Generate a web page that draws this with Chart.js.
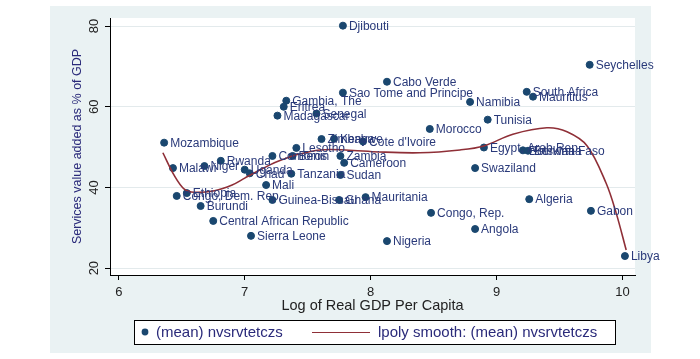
<!DOCTYPE html>
<html>
<head>
<meta charset="utf-8">
<script src="https://cdn.jsdelivr.net/npm/chart.js@4.4.1/dist/chart.umd.min.js"></script>
<style>
  html, body { margin: 0; padding: 0; background: #fff; }
  #wrap { width: 700px; height: 359px; position: relative; }
</style>
</head>
<body>
<div id="wrap"><canvas id="myChart" width="700" height="359"></canvas></div>
<script>
// country labels and values
const countries = [
  "Djibouti", "Cabo Verde", "Sao Tome and Principe", "Seychelles", "South Africa",
  "Mauritius", "Namibia", "Gambia, The", "Eritrea", "Madagascar",
  "Senegal", "Tunisia", "Morocco", "Mozambique", "Zimbabwe",
  "Kenya", "Cote d'Ivoire", "Lesotho", "Egypt, Arab Rep.", "Botswana",
  "Burkina Faso", "Swaziland", "Zambia", "Cameroon", "Sudan",
  "Comoros", "Benin", "Rwanda", "Niger", "Malawi",
  "Uganda", "Chad", "Tanzania", "Mali", "Ethiopia",
  "Congo, Dem. Rep.", "Burundi", "Guinea-Bissau", "Central African Republic", "Sierra Leone",
  "Ghana", "Mauritania", "Congo, Rep.", "Angola", "Nigeria",
  "Algeria", "Gabon", "Libya"
];
const logGdp = [
  7.78, 8.13, 7.78, 9.74, 9.24,
  9.29, 8.79, 7.33, 7.31, 7.26,
  7.57, 8.93, 8.47, 6.36, 7.61,
  7.71, 7.94, 7.41, 8.90, 9.21,
  9.25, 8.83, 7.76, 7.79, 7.76,
  7.22, 7.38, 6.81, 6.68, 6.43,
  7.00, 7.04, 7.37, 7.17, 6.54,
  6.46, 6.65, 7.22, 6.75, 7.05,
  7.75, 7.96, 8.48, 8.83, 8.13,
  9.26, 9.75, 10.02
];
const services = [
  80.1, 66.2, 63.5, 70.4, 63.7,
  62.5, 61.2, 61.5, 60.0, 57.8,
  58.3, 56.8, 54.5, 51.1, 52.0,
  52.1, 51.4, 49.8, 49.9, 49.2,
  49.1, 44.8, 47.8, 46.1, 43.1,
  47.8, 47.8, 46.6, 45.3, 44.8,
  44.4, 43.5, 43.4, 40.6, 38.6,
  37.9, 35.4, 36.9, 31.7, 28.0,
  36.9, 37.6, 33.7, 29.7, 26.7,
  37.1, 34.2, 23.0
];

// lpoly smooth curve
const smoothX = [6.35, 6.44, 6.52, 6.60, 6.76, 6.90, 7.00, 7.10, 7.20, 7.30, 7.40, 7.60, 7.80, 8.07, 8.39, 8.71, 8.90, 9.13, 9.40, 9.56, 9.72, 9.87, 9.95, 10.03];
const smoothY = [48.6, 43.0, 39.6, 38.8, 39.2, 40.6, 42.3, 44.0, 45.6, 46.9, 48.0, 49.3, 49.3, 48.8, 48.6, 49.3, 50.3, 53.2, 54.8, 53.8, 50.3, 41.1, 33.7, 24.5];

const xTicks = [6, 7, 8, 9, 10];
const yTicks = [20, 40, 60, 80];

const navy = "#1a476f";
const maroon = "#8f2f37";
const FONT = "'Liberation Sans', Arial, sans-serif";

// background box + point labels + legend
const stataLook = {
  id: "stataLook",
  beforeDraw(chart) {
    const c = chart.ctx;
    c.save();
    c.fillStyle = "#eaf2f3";
    c.fillRect(50, 6, 601, 347);
    const a = chart.chartArea;
    c.fillStyle = "#fff";
    c.fillRect(a.left, a.top, a.right - a.left, a.bottom - a.top);
    c.restore();
  },
  afterDatasetsDraw(chart) {
    const c = chart.ctx;
    const meta = chart.getDatasetMeta(0);
    c.save();
    c.font = "12px " + FONT;
    c.fillStyle = "#2a3a7a";
    c.textBaseline = "middle";
    meta.data.forEach((pt, i) => {
      c.fillText(countries[i], pt.x + 6, pt.y + 1);
    });
    c.restore();
  },
  afterDraw(chart) {
    const c = chart.ctx;
    c.save();
    // legend box
    c.fillStyle = "#fff";
    c.fillRect(134, 320, 481, 24);
    c.strokeStyle = "#000";
    c.lineWidth = 1;
    c.strokeRect(134.5, 320.5, 481, 24);
    c.fillStyle = navy;
    c.beginPath();
    c.arc(145, 332, 3.4, 0, Math.PI * 2);
    c.fill();
    c.font = "15px " + FONT;
    c.fillStyle = "#2a2a7a";
    c.textBaseline = "middle";
    c.fillText(chart.data.datasets[0].label, 156, 333);
    c.strokeStyle = maroon;
    c.beginPath();
    c.moveTo(312, 332.5);
    c.lineTo(370, 332.5);
    c.stroke();
    c.fillText(chart.data.datasets[1].label, 378, 333);
    c.restore();
  }
};

const ctx = document.getElementById("myChart").getContext("2d");
const myChart = new Chart(ctx, {
  type: "scatter",
  data: {
    datasets: [
      {
        label: "(mean) nvsrvtetczs",
        data: logGdp.map((x, i) => ({ x: x, y: services[i] })),
        backgroundColor: navy,
        borderColor: navy,
        pointRadius: 3.5,
        pointHoverRadius: 3.5,
        order: 1
      },
      {
        type: "line",
        label: "lpoly smooth: (mean) nvsrvtetczs",
        data: smoothX.map((x, i) => ({ x: x, y: smoothY[i] })),
        borderColor: maroon,
        borderWidth: 1.6,
        pointRadius: 0,
        tension: 0.35,
        fill: false,
        order: 0
      }
    ]
  },
  options: {
    responsive: false,
    animation: false,
    layout: { padding: { left: 50, right: 65, top: 18, bottom: 44 } },
    plugins: {
      legend: { display: false },
      tooltip: { enabled: false }
    },
    scales: {
      x: {
        type: "linear",
        min: 5.93,
        max: 10.1,
        afterBuildTicks: (s) => { s.ticks = xTicks.map(v => ({ value: v })); },
        afterFit: (s) => { s.height = 40; },
        border: { display: true, color: "#000", width: 1 },
        grid: { drawOnChartArea: false, tickColor: "#000", tickLength: 5 },
        ticks: { color: "#222", font: { family: FONT, size: 13 }, padding: 5, maxRotation: 0 },
        title: {
          display: true,
          text: "Log of Real GDP Per Capita",
          color: "#222",
          font: { family: FONT, size: 14.5 },
          padding: { top: -9, bottom: 0 }
        }
      },
      y: {
        min: 18.3,
        max: 82,
        afterBuildTicks: (s) => { s.ticks = yTicks.map(v => ({ value: v })); },
        afterFit: (s) => { s.width = 60; },
        border: { display: true, color: "#000", width: 1 },
        grid: { color: "#e3eaec", tickColor: "#000", tickLength: 5 },
        ticks: { color: "#222", font: { family: FONT, size: 13 }, padding: 3, minRotation: 90, maxRotation: 90, crossAlign: "center" },
        title: {
          display: true,
          text: "Services value added as % of GDP",
          color: "#2a2a7a",
          font: { family: FONT, size: 12.5 },
          padding: { top: 20, bottom: 0 }
        }
      }
    }
  },
  plugins: [stataLook]
});
</script>
</body>
</html>
